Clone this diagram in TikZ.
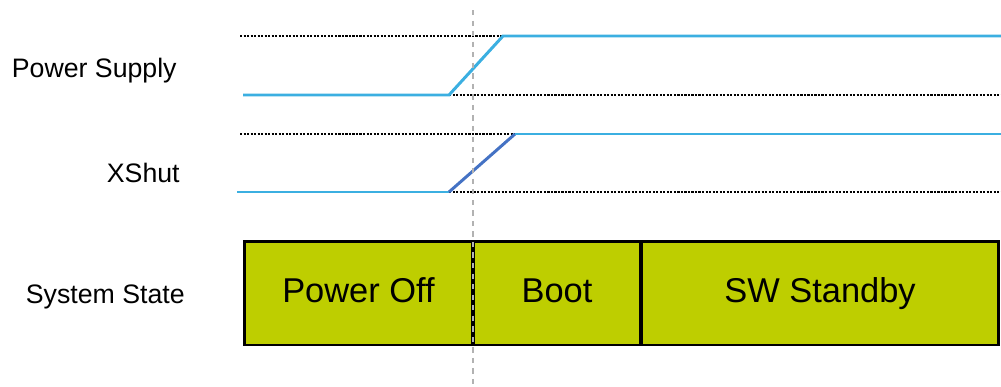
\documentclass[tikz,border=0pt]{standalone}
\usepackage{fontspec}
\setmainfont{Liberation Sans}
\definecolor{sigblue}{RGB}{59,175,225}
\definecolor{rampblue}{RGB}{68,114,196}
\definecolor{stategreen}{RGB}{190,206,0}
\tikzset{
  level/.style={dash pattern=on 1.2pt off 0.8pt, line width=0.75pt},
  signal/.style={sigblue, line width=1.7pt},
  statebox/.style={draw, line width=1.7pt, fill=stategreen, minimum height=2.08cm,
    inner sep=0pt, text height=14pt, text depth=3pt, font=\fontsize{19.6}{22}\selectfont},
  siglabel/.style={anchor=base east, inner sep=0pt, font=\fontsize{15.2}{18}\selectfont}
}
\begin{document}
\begin{tikzpicture}[x=0.02cm, y=-0.02cm]
  \useasboundingbox (0,0) rectangle (1001,386);
  % labels
  \node[siglabel] (lpower) at (177,77) {Power Supply};
  \node[siglabel] (lxshut) at (180,182) {XShut};
  \node[siglabel] (lstate) at (185,303) {System State};
  % power supply
  \draw[level] (240,36) -- (503,36);
  \draw[level] (449,95) -- (1001,95);
  \draw[signal] (243,95) -- (449,95) -- (503,36) -- (1001,36);
  % xshut
  \draw[level] (240,134) -- (515,134);
  \draw[level] (449,192) -- (1001,192);
  \draw[signal] (237,192) -- (449,192);
  \draw[signal, rampblue] (449,192) -- (515,134);
  \draw[signal] (515,134) -- (1001,134);
  % system state
  \node[statebox, minimum width=4.58cm] (off) at (358.5,293) {Power Off};
  \node[statebox, minimum width=3.36cm] (boot) at (557,293) {Boot};
  \node[statebox, minimum width=7.16cm] (standby) at (820,293) {SW Standby};
  % marker
  \draw[gray!60, dashed, line width=1.2pt] (473,10) -- (473,386);
\end{tikzpicture}
\end{document}
